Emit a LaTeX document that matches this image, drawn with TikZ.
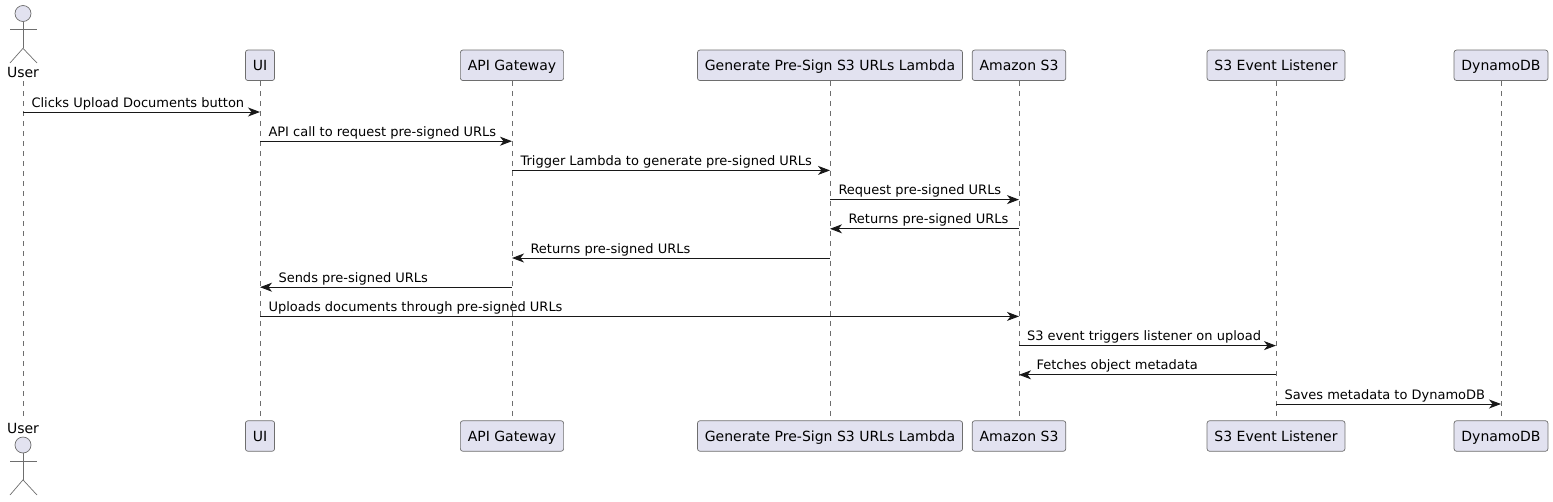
\documentclass[tikz,border=0pt]{standalone}
\usepackage{fontspec}
\setmainfont{DejaVu Sans}
\usetikzlibrary{positioning,arrows.meta}
\definecolor{partfill}{HTML}{E2E2F0}
\definecolor{partline}{HTML}{6E6E6E}
\definecolor{msgline}{HTML}{181818}
\tikzset{
  part/.style={rectangle,rounded corners=2.5pt,draw=partline,line width=0.7pt,fill=partfill,
    minimum height=30.5pt,inner xsep=7.4pt,inner ysep=0pt,text height=13pt,text depth=3pt,font=\fontsize{14}{16}\selectfont},
  actorbody/.style={draw=partline,line width=0.7pt},
  actorname/.style={inner sep=0pt,minimum height=18pt,font=\fontsize{14}{16}\selectfont},
  lifeline/.style={draw=partline,line width=0.7pt,dash pattern=on 5pt off 5pt},
  msg/.style={draw=msgline,line width=1pt,-{Stealth[length=12pt,width=9pt,inset=3.5pt]}},
  msgback/.style={draw=msgline,line width=1pt,{Stealth[length=12pt,width=9pt,inset=3.5pt]}-},
  lbl/.style={inner sep=0pt,anchor=base west,yshift=5pt,font=\fontsize{13}{15}\selectfont}
}
\begin{document}
\begin{tikzpicture}[x=1pt,y=-1pt]
     \useasboundingbox (0,0) rectangle (1553,501);
     % top row
     \node[part] (ui) at (260,65.3) {UI};
     \node[part,right of=ui,node distance=252pt] (gateway) {API Gateway};
     \node[part,right of=gateway,node distance=318pt] (lambda) {Generate Pre-Sign S3 URLs Lambda};
     \node[part,right of=lambda,node distance=189pt] (s3) {Amazon S3};
     \node[part,right of=s3,node distance=257pt] (listener) {S3 Event Listener};
     \node[part,right of=listener,node distance=225pt] (dynamo) {DynamoDB};
     % bottom row
     \node[part,below of=ui,node distance=370.7pt] (uibot) {UI};
     \node[part,below of=gateway,node distance=370.7pt] (gatewaybot) {API Gateway};
     \node[part,below of=lambda,node distance=370.7pt] (lambdabot) {Generate Pre-Sign S3 URLs Lambda};
     \node[part,below of=s3,node distance=370.7pt] (s3bot) {Amazon S3};
     \node[part,below of=listener,node distance=370.7pt] (listenerbot) {S3 Event Listener};
     \node[part,below of=dynamo,node distance=370.7pt] (dynamobot) {DynamoDB};
     % the two actors
     \node[circle,draw=partline,line width=0.7pt,fill=partfill,inner sep=0pt,minimum size=16pt] (userhead) at (23,13.5) {};
     \node[actorname] (user) at (23,72.2) {User};
     \draw[actorbody] (userhead.south) -- ++(0,26.5) coordinate (userhip);
     \draw[actorbody] (10,29) -- (37,29);
     \draw[actorbody] (10,63) -- (userhip) -- (37,63);
     \node[actorname] (userbot) at (23,428.3) {User};
     \node[circle,draw=partline,line width=0.7pt,fill=partfill,inner sep=0pt,minimum size=16pt] (userheadbot) at (23,445) {};
     \draw[actorbody] (userheadbot.south) -- ++(0,26.5) coordinate (userhipbot);
     \draw[actorbody] (10,461) -- (37,461);
     \draw[actorbody] (10,495) -- (userhipbot) -- (37,495);
     % lifelines
     \draw[lifeline,shorten >=3pt] (user) -- (userbot);
     \draw[lifeline] (ui) -- (uibot);
     \draw[lifeline] (gateway) -- (gatewaybot);
     \draw[lifeline] (lambda) -- (lambdabot);
     \draw[lifeline] (s3) -- (s3bot);
     \draw[lifeline] (listener) -- (listenerbot);
     \draw[lifeline] (dynamo) -- (dynamobot);
     % message rows
     \foreach \i in {1,...,11} {
       \coordinate (m\i) at (0,{112+29.2*(\i-1)});
     }
     \draw[msg] (user |- m1) -- (ui |- m1) node[lbl,at start,xshift=8pt] (lab1) {Clicks Upload Documents button};
     \draw[msg] (ui |- m2) -- (gateway |- m2) node[lbl,at start,xshift=8pt] (lab2) {API call to request pre-signed URLs};
     \draw[msg] (gateway |- m3) -- (lambda |- m3) node[lbl,at start,xshift=8pt] (lab3) {Trigger Lambda to generate pre-signed URLs};
     \draw[msg] (lambda |- m4) -- (s3 |- m4) node[lbl,at start,xshift=8pt] (lab4) {Request pre-signed URLs};
     \draw[msgback] (lambda |- m5) -- (s3 |- m5) node[lbl,at start,xshift=18pt] (lab5) {Returns pre-signed URLs};
     \draw[msgback] (gateway |- m6) -- (lambda |- m6) node[lbl,at start,xshift=18pt] (lab6) {Returns pre-signed URLs};
     \draw[msgback] (ui |- m7) -- (gateway |- m7) node[lbl,at start,xshift=18pt] (lab7) {Sends pre-signed URLs};
     \draw[msg] (ui |- m8) -- (s3 |- m8) node[lbl,at start,xshift=8pt] (lab8) {Uploads documents through pre-signed URLs};
     \draw[msg] (s3 |- m9) -- (listener |- m9) node[lbl,at start,xshift=7.5pt] (lab9) {S3 event triggers listener on upload};
     \draw[msgback] (s3 |- m10) -- (listener |- m10) node[lbl,at start,xshift=17pt] (lab10) {Fetches object metadata};
     \draw[msg] (listener |- m11) -- (dynamo |- m11) node[lbl,at start,xshift=8pt] (lab11) {Saves metadata to DynamoDB};
\end{tikzpicture}
\end{document}
